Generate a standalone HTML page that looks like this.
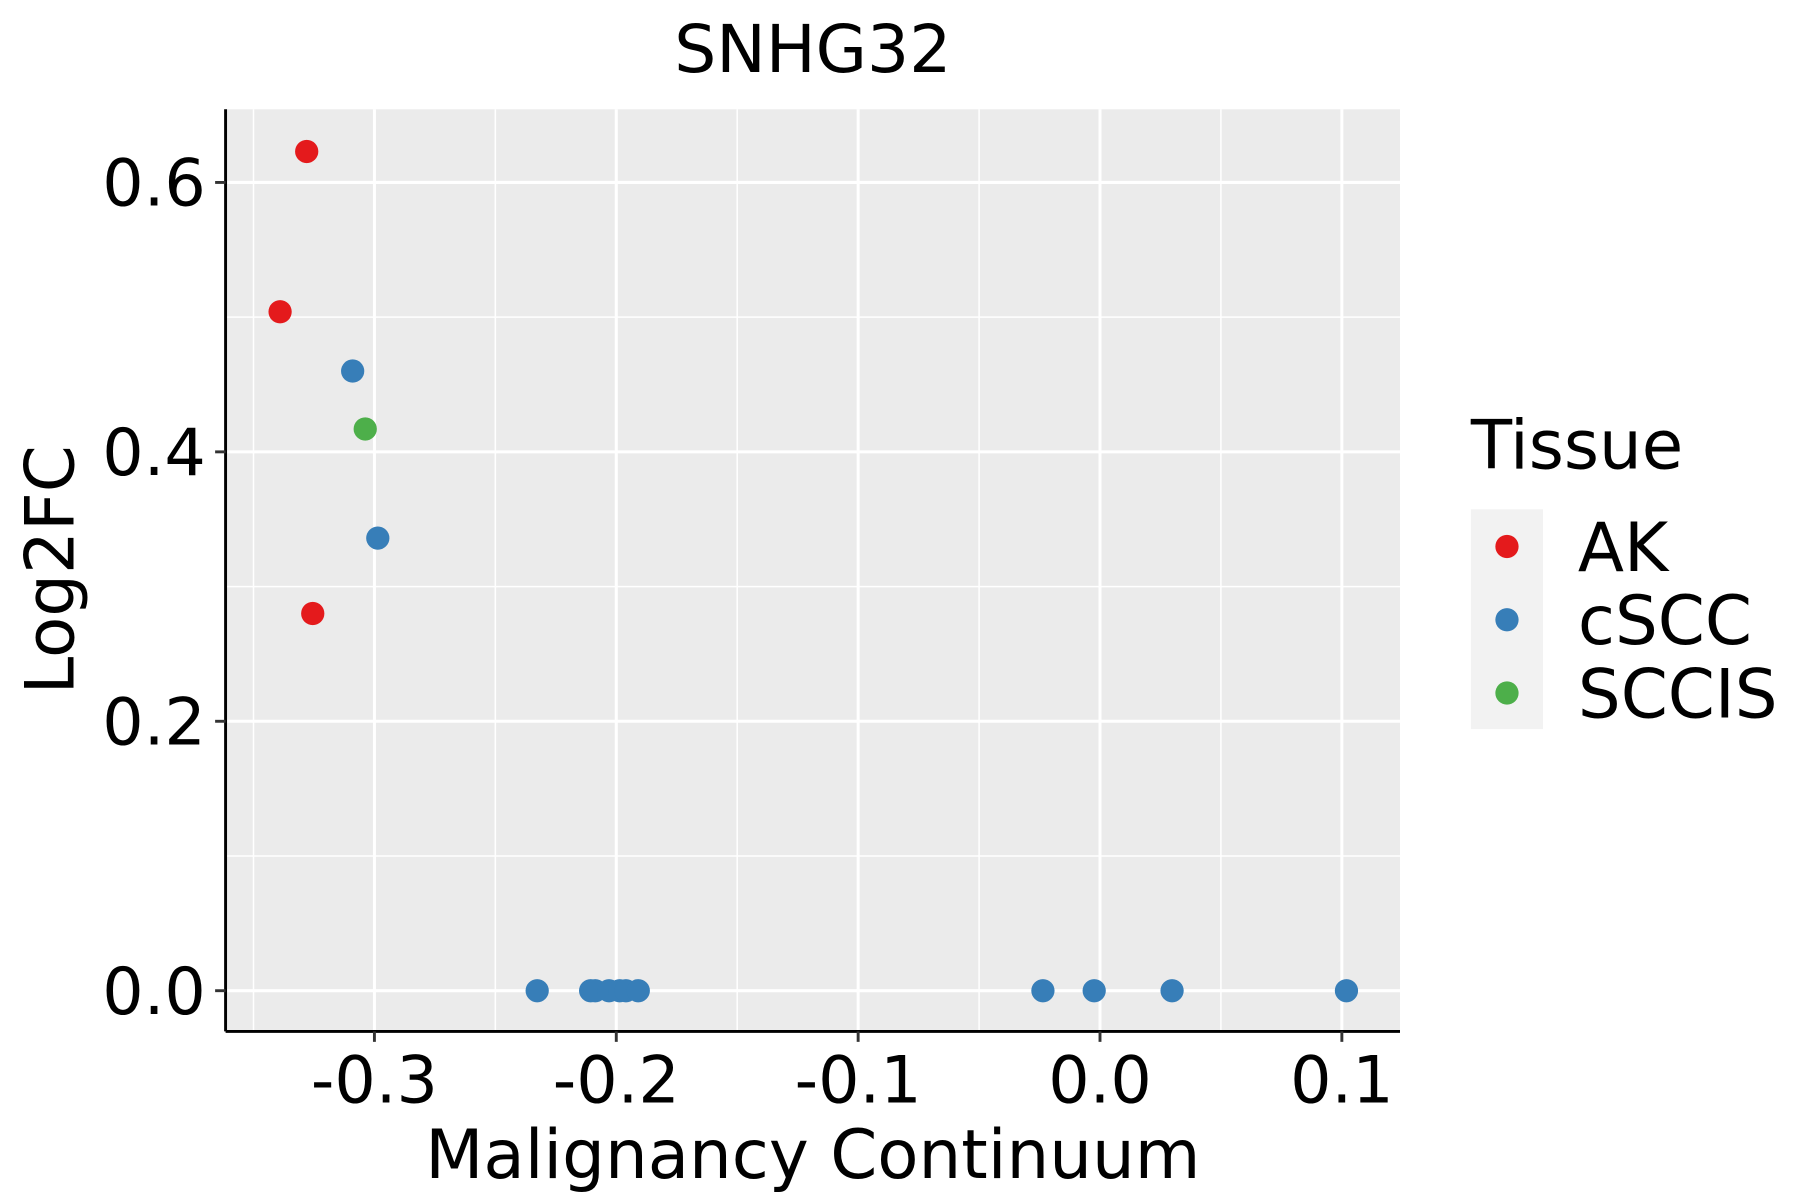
<!DOCTYPE html>
<html><head><meta charset="utf-8"><style>
html,body{margin:0;padding:0;background:#fff;}
svg{display:block;font-family:"DejaVu Sans","Liberation Sans",sans-serif;}
</style></head><body>
<svg id="chart" width="1800" height="1200" viewBox="0 0 1548 1032" preserveAspectRatio="none" xmlns="http://www.w3.org/2000/svg">
<text x="699" y="62" font-size="57" text-anchor="middle">SNHG32</text>
<rect x="194" y="94" width="1010" height="793" fill="#ebebeb"/>
<g id="grid"></g>
<g id="points"></g>
<line x1="194" y1="94" x2="194" y2="887" stroke="#000" stroke-width="2.5"/>
<line x1="194" y1="887" x2="1204" y2="887" stroke="#000" stroke-width="2.5"/>
<g id="ticks"></g>
<text x="699" y="1013" font-size="58" text-anchor="middle">Malignancy Continuum</text>
<text transform="translate(63,490) rotate(-90)" font-size="58" text-anchor="middle">Log2FC</text>
<g>
<text x="1265" y="403" font-size="58">Tissue</text>
<rect x="1265" y="438" width="62" height="189" fill="#f2f2f2"/>
<circle cx="1296" cy="470" r="10" fill="#e41a1c"/>
<circle cx="1296" cy="533" r="10" fill="#377eb8"/>
<circle cx="1296" cy="596" r="10" fill="#4daf4a"/>
<text x="1357" y="491" font-size="58">AK</text>
<text x="1357" y="554" font-size="58">cSCC</text>
<text x="1357" y="617" font-size="58">SCCIS</text>
</g>
</svg>
<script>
const xTicks = [-0.3, -0.2, -0.1, 0.0, 0.1];
const xTickLabels = ["-0.3", "-0.2", "-0.1", "0.0", "0.1"];
const yTicks = [0.0, 0.2, 0.4, 0.6];
const yTickLabels = ["0.0", "0.2", "0.4", "0.6"];
const xMinor = [-0.35, -0.25, -0.15, -0.05, 0.05];
const yMinor = [0.1, 0.3, 0.5];
const akX = [-0.328, -0.339, -0.3255];
const akY = [0.623, 0.504, 0.280];
const csccX = [-0.309, -0.2986, -0.2327, -0.2106, -0.2087, -0.203, -0.1986, -0.196, -0.1909, -0.0236, -0.0024, 0.0298, 0.1019];
const csccY = [0.460, 0.336, 0, 0, 0, 0, 0, 0, 0, 0, 0, 0, 0];
const sccisX = [-0.3038];
const sccisY = [0.417];

const NS = "http://www.w3.org/2000/svg";
function xs(v){ return 946 + v * 2080; }
function ys(v){ return 852 - v * 1158.5; }
function mk(tag, attrs, parent){
  const e = document.createElementNS(NS, tag);
  for (const k in attrs) e.setAttribute(k, attrs[k]);
  parent.appendChild(e);
  return e;
}
const grid = document.getElementById('grid');
const ticks = document.getElementById('ticks');
const pts = document.getElementById('points');
xMinor.forEach(v => {
  const l = mk('line', {x1: xs(v), x2: xs(v), y1: 94, y2: 887, stroke: '#fff', 'stroke-width': 1.3}, grid);
  
  
});
yMinor.forEach(v => {
  const l = mk('line', {x1: 194, x2: 1204, y1: ys(v), y2: ys(v), stroke: '#fff', 'stroke-width': 1.3}, grid);
  
  
});
xTicks.forEach((v, i) => {
  const l = mk('line', {x1: xs(v), x2: xs(v), y1: 94, y2: 887, stroke: '#fff', 'stroke-width': 2.6}, grid);
  
  
  const t = mk('line', {x1: xs(v), x2: xs(v), y1: 887, y2: 896, stroke: '#333', 'stroke-width': 2.5}, ticks);
  
  
  const tx = mk('text', {x: xs(v), y: 948, 'font-size': 56, 'text-anchor': 'middle'}, ticks);
  tx.textContent = xTickLabels[i];
  
  
});
yTicks.forEach((v, i) => {
  const l = mk('line', {x1: 194, x2: 1204, y1: ys(v), y2: ys(v), stroke: '#fff', 'stroke-width': 2.6}, grid);
  
  
  const t = mk('line', {x1: 185, x2: 194, y1: ys(v), y2: ys(v), stroke: '#333', 'stroke-width': 2.5}, ticks);
  
  
  const tx = mk('text', {x: 177, y: ys(v) + 20, 'font-size': 56, 'text-anchor': 'end'}, ticks);
  tx.textContent = yTickLabels[i];
  
  
});
function drawSeries(X, Y, color, name){
  X.forEach((v, i) => {
    const c = mk('circle', {cx: xs(v), cy: ys(Y[i]), r: 10, fill: color}, pts);
    
    
  });
}
drawSeries(csccX, csccY, '#377eb8', 'cscc');
drawSeries(akX, akY, '#e41a1c', 'ak');
drawSeries(sccisX, sccisY, '#4daf4a', 'sccis');
</script>
</body></html>
